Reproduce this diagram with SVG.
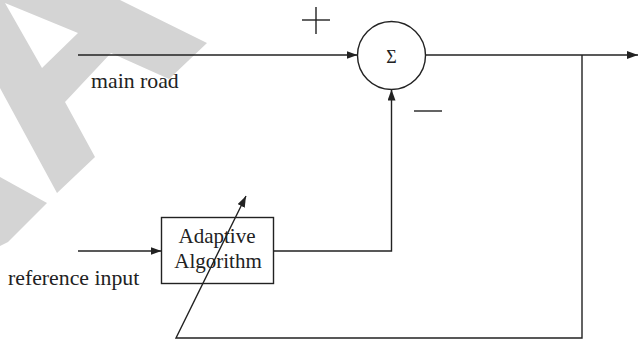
<svg xmlns="http://www.w3.org/2000/svg" width="644" height="342" viewBox="0 0 644 342">
<defs>
<style>
.ln{fill:none;stroke:#222;stroke-width:1.4}
.nd{fill:#fff;stroke:#222;stroke-width:1.4}
.tx{font-family:"Liberation Serif","Times New Roman",serif;font-size:21px;fill:#222}
.lb{font-size:21.8px}
.wm{fill:#d4d4d4}
</style>
<marker id="ah" markerUnits="userSpaceOnUse" markerWidth="12" markerHeight="9" refX="11" refY="4" orient="auto">
<path d="M0,0 L11,4 L0,8 z" fill="#222"/>
</marker>
</defs>
<rect width="644" height="342" fill="#fff"/>
<g id="watermark">
<path class="wm" fill-rule="evenodd" d="M0,0 L120,0 L207,43 L169,79 L111,53 L65,102 L95,157 L57,193 L0,88 Z M5,3 L78,33 L42,68 Z"/>
<path class="wm" d="M0,177 L47,203 L8,242 L0,246 Z"/>
</g>
<g id="connectors">
<line class="ln" x1="78" y1="55" x2="357.5" y2="55" marker-end="url(#ah)"/>
<line class="ln" x1="425.5" y1="55" x2="638" y2="55" marker-end="url(#ah)"/>
<polyline class="ln" points="582,55 582,338 176,338 246,196" marker-end="url(#ah)"/>
<line class="ln" x1="78" y1="251" x2="161.5" y2="251" marker-end="url(#ah)"/>
<polyline class="ln" points="273,251 391.5,251 391.5,89.5" marker-end="url(#ah)"/>
</g>
<g id="sum">
<circle class="nd" cx="391.5" cy="55.5" r="34"/>
<text class="tx" x="391.5" y="63" text-anchor="middle" style="font-size:18px">Σ</text>
</g>
<g id="adaptive">
<rect class="nd" x="161.5" y="217.5" width="112" height="66" style="fill:none"/>
<text class="tx" x="217" y="243" text-anchor="middle">Adaptive</text>
<text class="tx" x="218" y="268" text-anchor="middle">Algorithm</text>
</g>
<g id="labels">
<text class="tx lb" x="91" y="88">main road</text>
<text class="tx lb" x="8" y="285">reference input</text>
<g id="plus"><line class="ln" x1="302" y1="20" x2="330" y2="20"/><line class="ln" x1="316" y1="7" x2="316" y2="34"/></g>
<line id="minus" class="ln" x1="414" y1="111" x2="442" y2="111"/>
</g>
</svg>
